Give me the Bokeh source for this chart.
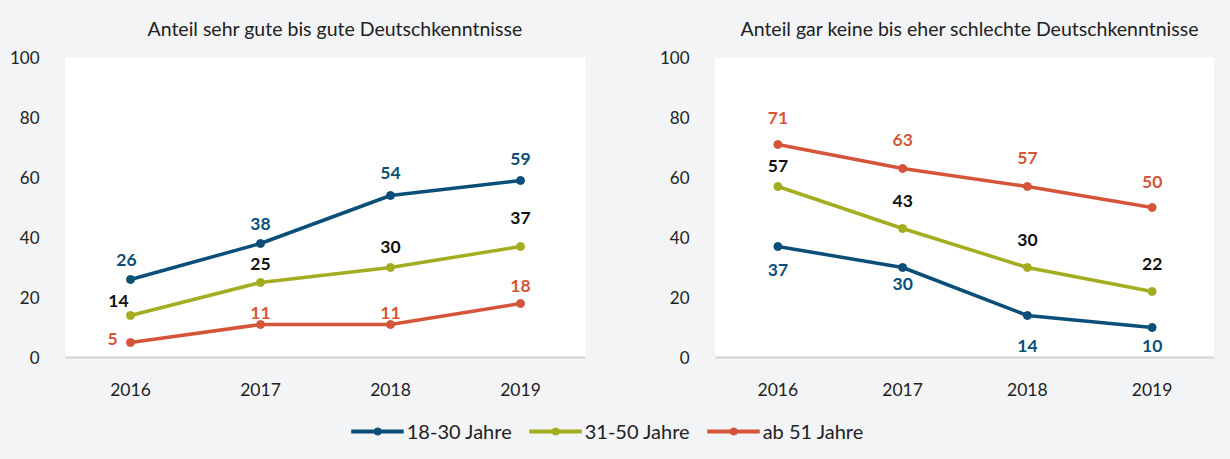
from bokeh.plotting import figure
from bokeh.models import (ColumnDataSource, Legend, LegendItem, FactorRange, Range1d,
                          GlobalInlineStyleSheet)
from bokeh.layouts import column, row
from bokeh.embed import file_html
from bokeh.resources import INLINE
from bokeh.core.properties import value

# ---------------- data ----------------
years = ["2016", "2017", "2018", "2019"]
series_names = ["18-30 Jahre", "31-50 Jahre", "ab 51 Jahre"]
good_18_30 = [26, 38, 54, 59]
good_31_50 = [14, 25, 30, 37]
good_51 = [5, 11, 11, 18]
bad_18_30 = [37, 30, 14, 10]
bad_31_50 = [57, 43, 30, 22]
bad_51 = [71, 63, 57, 50]
panel_titles = ["Anteil sehr gute bis gute Deutschkenntnisse",
                "Anteil gar keine bis eher schlechte Deutschkenntnisse"]
y_ticks = [0, 20, 40, 60, 80, 100]

# ---------------- styles ----------------
BG = "#f3f4f6"
FONT = "Lato"
LINE_COLORS = ["#0b4f79", "#a4ad20", "#d5553a"]
LABEL_COLORS = ["#0b4f79", "#111111", "#d5553a"]
TEXT = "#222222"

# label offsets (screen px) per panel, per series
OFFS = [
    [  # left panel
        ([-4, 0, 0, 0], [-20, -20, -23, -22]),
        ([-12, 0, 0, 0], [-15, -19, -21, -29]),
        ([-18, 0, 0, 0], [-4, -12, -12, -18]),
    ],
    [  # right panel
        ([0, 0, 0, 0], [23, 16, 30, 18]),
        ([0, 0, 0, 0], [-21, -28, -28, -28]),
        ([0, 0, 0, 0], [-27, -29, -29, -26]),
    ],
]

H_TOP = 410
FRAME_TOP = 57
FRAME_BOTTOM = 357


def make_panel(title, data, offs, width, mb_left, mb_right, title_offset):
    p = figure(width=width, height=H_TOP, x_range=FactorRange(*years),
               y_range=Range1d(0, 100), toolbar_location=None,
               output_backend="svg", min_border_left=mb_left,
               min_border_right=mb_right, min_border_top=FRAME_TOP,
               min_border_bottom=H_TOP - FRAME_BOTTOM)
    p.title.text = title
    p.title.align = "left"
    p.title.vertical_align = "top"
    p.title.text_font = FONT
    p.title.text_font_size = "19.5px"
    p.title.text_font_style = "normal"
    p.title.text_color = TEXT
    p.title.standoff = 31
    p.title.offset = title_offset
    p.background_fill_color = "white"
    p.border_fill_color = BG
    p.outline_line_color = None
    p.grid.visible = False

    p.yaxis.ticker = y_ticks
    p.yaxis.axis_line_color = None
    p.yaxis.major_tick_line_color = None
    p.yaxis.minor_tick_line_color = None
    p.yaxis.major_label_standoff = 20
    p.yaxis.major_label_text_font = FONT
    p.yaxis.major_label_text_font_size = "17px"
    p.yaxis.major_label_text_color = TEXT

    p.xaxis.axis_line_color = "#d4d4d4"
    p.xaxis.axis_line_width = 2
    p.xaxis.major_tick_line_color = None
    p.xaxis.minor_tick_line_color = None
    p.xaxis.major_label_standoff = 19
    p.xaxis.major_label_text_font = FONT
    p.xaxis.major_label_text_font_size = "17.5px"
    p.xaxis.major_label_text_color = TEXT

    for vals, lc, tc, (xo, yo) in zip(data, LINE_COLORS, LABEL_COLORS, offs):
        src = ColumnDataSource(dict(x=years, y=vals, lab=[str(v) for v in vals],
                                    xo=xo, yo=yo))
        p.line("x", "y", source=src, line_color=lc, line_width=3.5)
        p.scatter("x", "y", source=src, marker="circle", size=8,
                  fill_color=lc, line_color=lc)
        p.text("x", "y", text="lab", source=src, x_offset="xo", y_offset="yo",
               text_align="center", text_baseline="middle",
               text_font=value(FONT), text_font_size="17.5px",
               text_font_style="bold", text_color=tc)
    return p


p1 = make_panel(panel_titles[0], [good_18_30, good_31_50, good_51], OFFS[0],
                620, 65, 35, 82)
p2 = make_panel(panel_titles[1], [bad_18_30, bad_31_50, bad_51], OFFS[1],
                594, 95, 0, 25)

# legend strip (series drawn outside the visible y-range; only the legend shows)
pl = figure(width=1214, height=443 - H_TOP, x_range=FactorRange(*years),
            y_range=Range1d(-20, -10), toolbar_location=None,
            output_backend="svg", min_border=0)
pl.axis.visible = False
pl.grid.visible = False
pl.outline_line_color = None
pl.background_fill_color = BG
pl.border_fill_color = BG
items = []
for name, vals, c in zip(series_names, [good_18_30, good_31_50, good_51], LINE_COLORS):
    r1 = pl.line(x=years, y=vals, line_color=c, line_width=4)
    r2 = pl.scatter(x=years, y=vals, marker="circle", size=7, fill_color=c, line_color=c)
    items.append(LegendItem(label=name, renderers=[r1, r2]))
leg = Legend(items=items, orientation="horizontal", location="bottom_center",
             background_fill_alpha=0, border_line_color=None,
             label_text_font=FONT, label_text_font_size="20px",
             label_text_color=TEXT, glyph_width=53, glyph_height=18,
             label_standoff=3, spacing=17, padding=0, margin=0)
pl.add_layout(leg, "center")

layout = column(row(p1, p2), pl,
                stylesheets=[GlobalInlineStyleSheet(css=f"body{{background:{BG};}}")])

open("out.html", "w").write(file_html(layout, INLINE))
